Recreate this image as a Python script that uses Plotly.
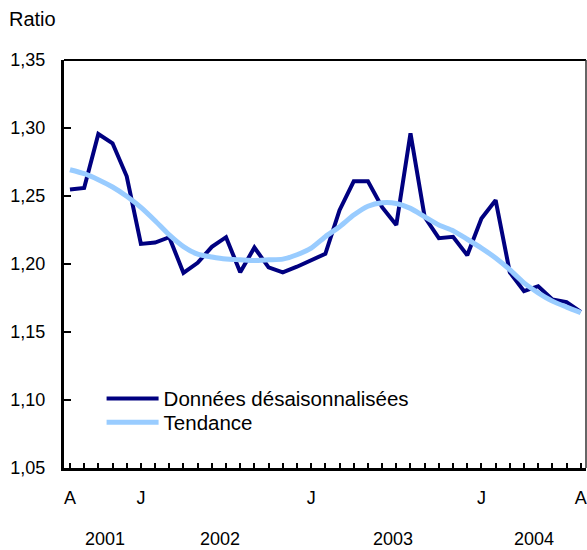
import plotly.graph_objects as go

# Monthly observations, August 2001 to August 2004
months = list(range(37))
donnees = [1.2547, 1.2559, 1.2956, 1.2888, 1.2645, 1.2148, 1.2158, 1.2197, 1.1934, 1.2009,
           1.2126, 1.2197, 1.1939, 1.2121, 1.1975, 1.1939, 1.1980, 1.2024, 1.2075, 1.2396,
           1.2608, 1.2608, 1.2418, 1.2287, 1.2961, 1.2345, 1.2190, 1.2200, 1.2065, 1.2335,
           1.2469, 1.1939, 1.1800, 1.1837, 1.1739, 1.1720, 1.1647]
tendance = [1.2693, 1.2664, 1.2620, 1.2566, 1.2498, 1.2416, 1.2318, 1.2214, 1.2128, 1.2072,
            1.2051, 1.2036, 1.2031, 1.2026, 1.2031, 1.2036, 1.2068, 1.2117, 1.2201, 1.2274,
            1.2360, 1.2425, 1.2450, 1.2445, 1.2409, 1.2347, 1.2287, 1.2245, 1.2182, 1.2117,
            1.2044, 1.1958, 1.1861, 1.1788, 1.1727, 1.1683, 1.1642]
month_labels = {0: "A", 5: "J", 17: "J", 29: "J", 36: "A"}
years = ["2001", "2002", "2003", "2004"]
year_pos = [2.5, 10.6, 22.8, 32.7]
y_ticks = [1.05, 1.10, 1.15, 1.20, 1.25, 1.30, 1.35]

FONT = "Arial, 'Liberation Sans', Helvetica, sans-serif"

fig = go.Figure()
fig.add_trace(go.Scatter(x=months, y=donnees, mode="lines", name="Données désaisonnalisées",
                         line=dict(color="#000080", width=4), legend="legend"))
fig.add_trace(go.Scatter(x=months, y=tendance, mode="lines", name="Tendance",
                         line=dict(color="#99CCFF", width=5, shape="spline", smoothing=0.6),
                         legend="legend2"))

ticktext = [month_labels.get(m, "") for m in months]

leg_common = dict(xanchor="left", yanchor="top", bgcolor="rgba(0,0,0,0)",
                  font=dict(size=20.5, family=FONT), itemwidth=52)

fig.update_layout(
    width=587, height=550,
    margin=dict(l=64, r=1, t=60, b=82),
    plot_bgcolor="white", paper_bgcolor="white",
    separators=",.",
    font=dict(family=FONT, size=18, color="black"),
    showlegend=True,
    hovermode=False,
    legend=dict(x=0.072, y=0.219, **leg_common),
    legend2=dict(x=0.072, y=0.1605, **leg_common),
    xaxis=dict(range=[-0.42, 36.37], tickvals=months, ticktext=ticktext,
               ticks="inside", ticklen=5, tickwidth=2, tickcolor="black",
               showline=True, linewidth=3, linecolor="black",
               showgrid=False, zeroline=False, ticklabelstandoff=11,
               tickfont=dict(size=18), automargin=False),
    yaxis=dict(range=[1.05, 1.35], tickvals=y_ticks, tickformat=".2f",
               ticks="inside", ticklen=7, tickwidth=2, tickcolor="black",
               showline=True, linewidth=3, linecolor="black",
               showgrid=False, zeroline=False, ticklabelstandoff=12,
               tickfont=dict(size=18), automargin=False),
)

# top and right frame
fig.add_shape(type="line", xref="paper", yref="paper", x0=0, x1=1, y0=1, y1=1,
              line=dict(color="black", width=2))
fig.add_shape(type="line", xref="paper", yref="paper", x0=1, x1=1, y0=0, y1=1,
              line=dict(color="#333333", width=1.5))

fig.add_annotation(text="Ratio", xref="paper", yref="paper", x=-0.11, y=1.1,
                   xanchor="left", yanchor="middle", showarrow=False,
                   font=dict(size=20, family=FONT))
for yr, xp in zip(years, year_pos):
    fig.add_annotation(text=yr, x=xp, xref="x", yref="paper", y=-0.175,
                       xanchor="center", yanchor="middle", showarrow=False,
                       font=dict(size=18, family=FONT))

fig.write_html("out.html", config={"displayModeBar": False},
               post_script="document.body.style.margin='0';document.body.style.overflow='hidden';")
